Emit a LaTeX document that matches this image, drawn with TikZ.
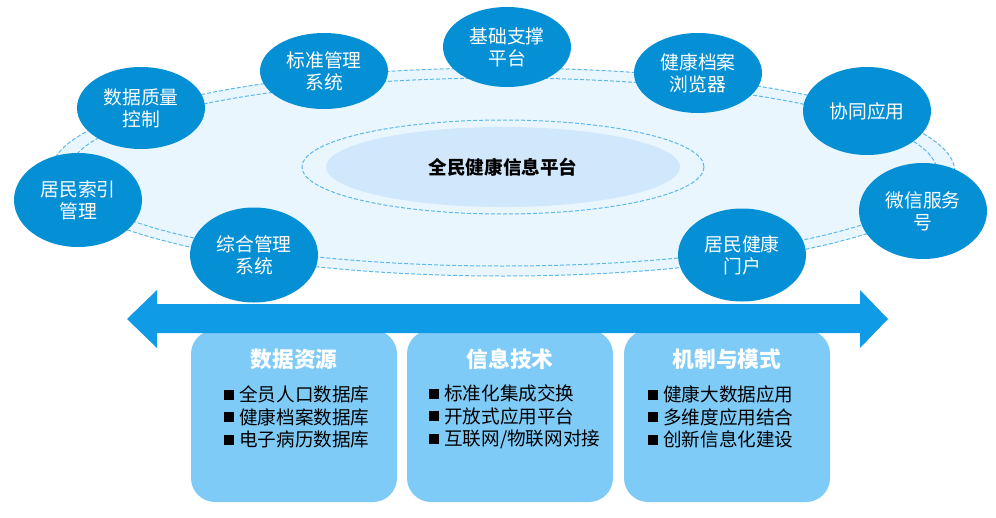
\documentclass[tikz,border=0pt]{standalone}
\usepackage{fontspec}
\setmainfont{Noto Sans CJK SC}
\usetikzlibrary{shapes.geometric,positioning}

\definecolor{bubbleblue}{RGB}{5,144,214}
\definecolor{arrowblue}{RGB}{15,155,230}
\definecolor{panelblue}{RGB}{127,203,248}
\definecolor{ringfill}{RGB}{234,246,254}
\definecolor{ringline}{RGB}{92,185,238}
\definecolor{corefill}{RGB}{209,231,251}

\newcommand\sqbul{\rule[2pt]{10pt}{10pt}\hspace{5pt}}

\tikzset{
  bubble/.style={ellipse, fill=bubbleblue, text=white, inner sep=0pt,
    minimum width=128pt, align=center, font=\fontsize{18.8}{22}\selectfont},
  panel/.style={rectangle, rounded corners=24pt, fill=panelblue,
    minimum width=206pt, minimum height=172pt},
  paneltitle/.style={text=white, inner sep=0pt, font=\fontsize{21.7}{24}\selectfont\bfseries},
  panellist/.style={anchor=west, align=left, inner sep=0pt,
    font=\fontsize{18.6}{22.5}\selectfont},
  ringline/.style={draw=ringline, line width=1pt, dash pattern=on 4pt off 2pt}
}

\begin{document}
\begin{tikzpicture}[x=1pt,y=-1pt]
  \useasboundingbox (0,0) rectangle (996,517);
  % ring
  \fill[ringfill] (503,172) ellipse (452pt and 104pt);
  \draw[ringline] (503,172) ellipse (452pt and 104pt);
  \draw[ringline] (503,172) ellipse (434pt and 94pt);
  % core
  \draw[ringline] (503,167) ellipse (201pt and 47pt);
  \node[ellipse, fill=corefill, minimum width=354pt, minimum height=80pt,
    font=\fontsize{18.6}{22}\selectfont\bfseries] (core) at (503,167) {全民健康信息平台};

  % bubbles
  \node[bubble, minimum height=76pt] (std) at (324,71) {标准管理\\系统};
  \node[bubble, minimum height=80pt] (base) at (507,47) {基础支撑\\平台};
  \node[bubble, minimum height=80pt] (browse) at (698,73) {健康档案\\浏览器};
  \node[bubble, minimum height=88pt] (coop) at (867,111) {协同应用};
  \node[bubble, minimum height=96pt] (wechat) at (923,211) {微信服务\\号};
  \node[bubble, minimum height=93pt] (portal) at (742,255) {居民健康\\门户};
  \node[bubble, minimum height=95pt] (mgmt) at (254,255) {综合管理\\系统};
  \node[bubble, minimum height=94pt] (index) at (78,200) {居民索引\\管理};
  \node[bubble, minimum height=82pt] (quality) at (141,108) {数据质量\\控制};

  % panels
  \node[panel] (data) at (294,416) {};
  \node[panel] (tech) at (510,416) {};
  \node[panel] (mode) at (727,416) {};

  % arrow
  \fill[arrowblue] (127,319) -- (157,290) -- (157,304) -- (860,304) -- (860,290)
    -- (888,319) -- (860,348) -- (860,333) -- (157,333) -- (157,348) -- cycle;

  \node[paneltitle] (datat) at (294,359) {数据资源};
  \node[paneltitle] (techt) at (510,359) {信息技术};
  \node[paneltitle] (modet) at (727,359) {机制与模式};

  \node[panellist] (datal) at (224,417) {\sqbul 全员人口数据库\\\sqbul 健康档案数据库\\\sqbul 电子病历数据库};
  \node[panellist] (techl) at (429,417) {\sqbul 标准化集成交换\\\sqbul 开放式应用平台\\\sqbul 互联网/物联网对接};
  \node[panellist] (model) at (648,417) {\sqbul 健康大数据应用\\\sqbul 多维度应用结合\\\sqbul 创新信息化建设};
\end{tikzpicture}
\end{document}
